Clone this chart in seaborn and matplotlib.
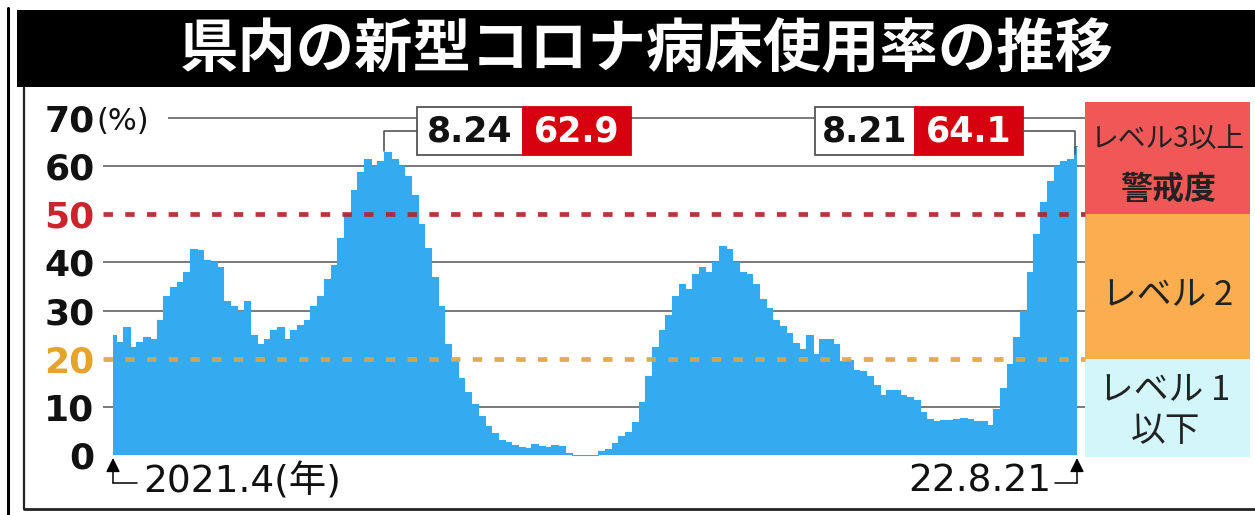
import numpy as np
import pandas as pd
import matplotlib
matplotlib.use("Agg")
import matplotlib.pyplot as plt
import seaborn as sns
from matplotlib.patches import Rectangle
from matplotlib.lines import Line2D
from matplotlib.transforms import Affine2D

# ---------------- data ----------------
title = "県内の新型コロナ病床使用率の推移"
start_date = "2021-04-01"
end_date = "2022-08-21"
usage = [
    25, 23.5, 26.5, 22.5, 23.5, 24.5, 24, 28, 33, 35,
    36, 38, 42.7, 42.5, 40.5, 40, 39, 32, 31, 30,
    32, 25, 23, 24, 26, 26.5, 24, 26, 27, 28,
    31, 33, 36.5, 39.5, 45, 50, 55, 58.7, 61.5, 60,
    61, 62.9, 61.5, 60, 58, 54, 48, 43, 37, 31,
    23, 19.5, 16, 13, 10.5, 8, 6, 4.5, 3.2, 2.8,
    2.1, 1.6, 1.4, 2.3, 1.8, 1.6, 2.1, 1.8, 0.5, 0,
    0, 0, 0, 0.8, 1.2, 2.4, 4, 4.8, 6.8, 11,
    16.5, 22.5, 26, 29, 33, 35.5, 34.5, 37.5, 39, 38,
    40, 43.4, 42.7, 40, 38, 37.5, 35.5, 32.5, 30.5, 28,
    26.7, 25.3, 23.3, 22, 25, 21, 24, 24, 23, 19.5,
    19.8, 17.7, 17.5, 16.5, 14.5, 12.5, 13.5, 13.5, 12.5, 12,
    11.5, 9, 7.5, 7, 7.2, 7.3, 7.5, 7.6, 7.4, 7,
    7, 6.3, 9.5, 14, 19, 24.5, 30, 38, 46, 52.5,
    57, 60, 61, 61.5, 64.1,
]
y_ticks = [0, 10, 20, 30, 40, 50, 60, 70]
y_tick_labels = ["0", "10", "20", "30", "40", "50", "60", "70"]
grid_values = [10, 30, 40, 60, 70]
level3_line = 50
level1_line = 20
peak1_date, peak1_value, peak1_index = "8.24", 62.9, 41
peak2_date, peak2_value = "8.21", 64.1
start_label = "2021.4(年)"
end_label = "22.8.21"
band_edges = [73.3, 50, 20, -0.4]
band_labels = [["レベル3以上", "警戒度"], ["レベル 2"], ["レベル 1", "以下"]]

# ---------------- style ----------------
sns.set_theme(style="white")
plt.rcParams["font.family"] = ["DejaVu Sans", "Noto Sans CJK JP"]
JP = ["Noto Sans CJK JP", "DejaVu Sans"]
BLUE = "#34aaf0"
RED_BOX = "#d7000f"
W, H = 1255, 515

fig = plt.figure(figsize=(W / 100, H / 100), dpi=100)
fig.patch.set_facecolor("white")
pix = Affine2D().scale(1 / W, -1 / H).translate(0, 1) + fig.transFigure

n_days = (pd.Timestamp(end_date) - pd.Timestamp(start_date)).days
days = np.linspace(0, n_days, len(usage))
df = pd.DataFrame({"day": days, "usage": usage})

X0, X1 = 113, 1077      # pixel of start / end date
Y0, Y70 = 455, 118      # pixel of 0 and 70 %


def dx(px):
    return (px - X0) / (X1 - X0) * n_days


def vy(py):
    return (Y0 - py) / (Y0 - Y70) * 70


L, R, T, B = 103, 1250, 100, 458
ax = fig.add_axes([L / W, (H - B) / H, (R - L) / W, (B - T) / H])
ax.set_xlim(dx(L), dx(R))
ax.set_ylim(vy(B), vy(T))
for s in ax.spines.values():
    s.set_visible(False)
ax.set_xticks([])
ax.set_facecolor("none")

# gridlines
for g in grid_values:
    xs = dx(168) if g == 70 else dx(L)
    ax.hlines(g, xs, dx(1085), color="#555555", lw=1.1, zorder=1)

# area
ax.fill_between(df["day"], df["usage"], step="mid", color=BLUE, lw=0, zorder=2)
sns.lineplot(data=df, x="day", y="usage", drawstyle="steps-mid", color=BLUE,
             lw=0.8, estimator=None, ax=ax, zorder=2)
ax.set_xlabel("")
ax.set_ylabel("")

# level dashed lines
ax.hlines(level3_line, dx(L), dx(1085), color="#b3222b", lw=3.4,
          linestyles=(0, (2.0, 2.6)), zorder=3, alpha=0.92)
ax.hlines(level1_line, dx(L), dx(1085), color="#dda543", lw=3.4,
          linestyles=(0, (2.0, 2.6)), zorder=3, alpha=0.92)

# y tick labels
ax.set_yticks(y_ticks)
ax.set_yticklabels(y_tick_labels, fontsize=26, fontweight="bold")
ax.tick_params(axis="y", length=0, pad=6)
for lab in ax.get_yticklabels():
    if lab.get_text() == "50":
        lab.set_color("#c8262c")
    elif lab.get_text() == "20":
        lab.set_color("#e5a22c")
    else:
        lab.set_color("#111111")
ax.text(96, 121, "(%)", transform=pix, fontsize=22, ha="left", va="center",
        color="#111111")

# right-side level bands
band_colors = ["#f05858", "#fbad4f", "#d3f6fb"]
for i, c in enumerate(band_colors):
    ax.add_patch(Rectangle((dx(1085), band_edges[i + 1]), dx(1250) - dx(1085),
                           band_edges[i] - band_edges[i + 1], facecolor=c,
                           edgecolor="none", zorder=1))
bx = dx(1168)
ax.text(bx, vy(140), band_labels[0][0], family=JP, fontsize=20, ha="center",
        va="center", color="#222222", zorder=5)
ax.text(bx, vy(190), band_labels[0][1], family=JP, fontsize=23, fontweight="bold",
        ha="center", va="center", color="#222222", zorder=5)
ax.text(bx, vy(295), band_labels[1][0], family=JP, fontsize=25, ha="center",
        va="center", color="#222222", zorder=5)
ax.text(bx - dx(116) + dx(113), vy(390), band_labels[2][0], family=JP, fontsize=25,
        ha="center", va="center", color="#222222", zorder=5)
ax.text(bx - dx(116) + dx(113), vy(432), band_labels[2][1], family=JP, fontsize=25,
        ha="center", va="center", color="#222222", zorder=5)

# annotation boxes
def ann_box(xl, xm, xr, date_txt, val_txt):
    yb, yt = vy(155), vy(107)
    ax.add_patch(Rectangle((dx(xl), yb), dx(xm) - dx(xl), yt - yb,
                           facecolor="white", edgecolor="#555555", lw=1.3, zorder=4))
    ax.add_patch(Rectangle((dx(xm), yb), dx(xr) - dx(xm), yt - yb,
                           facecolor=RED_BOX, edgecolor=RED_BOX, lw=1.3, zorder=4))
    ym = (yb + yt) / 2
    ax.text((dx(xl) + dx(xm)) / 2, ym, date_txt, fontsize=25, fontweight="bold",
            ha="center", va="center", color="#111111", zorder=5)
    ax.text((dx(xm) + dx(xr)) / 2, ym, val_txt, fontsize=25, fontweight="bold",
            ha="center", va="center", color="white", zorder=5)


ann_box(417, 523, 631, peak1_date, f"{peak1_value}")
ann_box(815, 915, 1023, peak2_date, f"{peak2_value}")
ycon = vy(131)
p1x = df["day"].iloc[peak1_index] - 2
ax.plot([p1x, p1x, dx(417)], [peak1_value + 0.3, ycon, ycon], color="#555555",
        lw=1.2, zorder=4)
p2x = df["day"].iloc[-1] - 1
ax.plot([dx(1023), p2x, p2x], [ycon, ycon, peak2_value - 1.5], color="#555555",
        lw=1.2, zorder=4)

# start / end markers
for xpx, hx in [(X0, 137), (X1, 1055)]:
    ax.annotate("", xy=(dx(xpx), vy(458)), xytext=(dx(xpx), vy(483)),
                arrowprops=dict(arrowstyle="-|>,head_length=0.7,head_width=0.35",
                                color="black", lw=1.1, shrinkA=0, shrinkB=0),
                annotation_clip=False)
    ax.plot([dx(xpx), dx(hx)], [vy(483), vy(483)], color="black", lw=1.1,
            clip_on=False)
ax.text(143, 482, start_label, transform=pix, fontsize=27, ha="left",
        va="center", color="#111111")
ax.text(1051, 482, end_label, transform=pix, fontsize=27, ha="right",
        va="center", color="#111111")

# title bar and frame
fig.add_artist(Rectangle((17, 87), W - 17, -77, transform=pix,
                         facecolor="black", edgecolor="none"))
fig.text(647, 50, title, transform=pix, family=JP, fontsize=42,
         fontweight="bold", color="white", ha="center", va="center")
fig.add_artist(Line2D([8, 8], [8, H], transform=pix, color="black", lw=2.2))
fig.add_artist(Line2D([24, 24], [87, 509], transform=pix, color="#222222", lw=1.6))
fig.add_artist(Line2D([24, W], [509, 509], transform=pix, color="#222222", lw=2.0))

fig.savefig("out.png", dpi=100)
